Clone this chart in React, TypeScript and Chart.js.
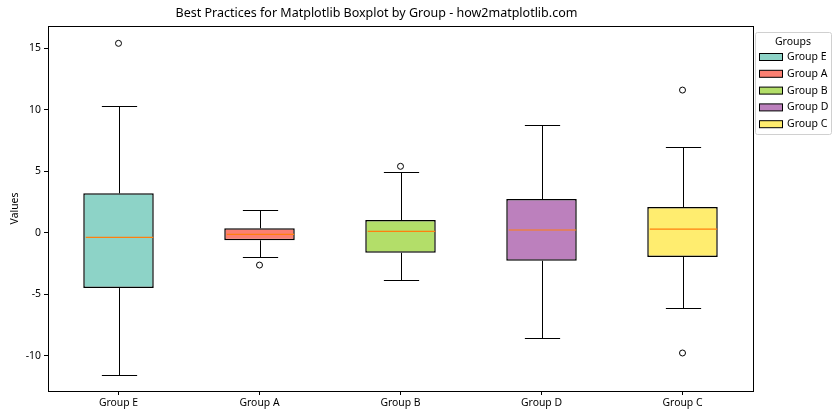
import React, { useEffect, useRef } from "react";
import { Chart, registerables } from "chart.js";

Chart.register(...registerables);

const categories = ["Group E", "Group A", "Group B", "Group D", "Group C"];
const q1 = [-4.5, -0.62, -1.63, -2.28, -1.97];
const q3 = [3.2, 0.36, 1.03, 2.74, 2.09];
const medians = [-0.37, -0.13, 0.11, 0.22, 0.3];
const whiskerLow = [-11.55, -1.97, -3.82, -8.56, -6.12];
const whiskerHigh = [10.3, 1.84, 4.9, 8.75, 6.97];
const outlierGroups = ["Group E", "Group A", "Group B", "Group C", "Group C"];
const outlierValues = [15.4, -2.63, 5.4, 11.6, -9.78];
const yTicks = [-10, -5, 0, 5, 10, 15];
const boxColors = ["#8dd3c7", "#fb8072", "#b3de69", "#bc80bd", "#ffed6f"];
const legendOrder = ["Group E", "Group A", "Group B", "Group D", "Group C"];

const FONT = "'Noto Sans', 'Open Sans', sans-serif";

const boxPlugin = {
  id: "boxExtras",
  afterDatasetsDraw(chart: any) {
    const ctx = chart.ctx;
    const xs = chart.scales.x;
    const ys = chart.scales.y;
    const meta = chart.getDatasetMeta(0);
    ctx.save();
    categories.forEach((_, i) => {
      const el: any = meta.data[i];
      const x = Math.round(xs.getPixelForValue(i)) + 0.5;
      const w = el.width;
      const capHalf = w / 4;
      ctx.strokeStyle = "#000";
      ctx.lineWidth = 1;
      ctx.beginPath();
      const yq3 = ys.getPixelForValue(q3[i]);
      const yq1 = ys.getPixelForValue(q1[i]);
      const yhi = Math.round(ys.getPixelForValue(whiskerHigh[i])) + 0.5;
      const ylo = Math.round(ys.getPixelForValue(whiskerLow[i])) + 0.5;
      ctx.moveTo(x, yq3);
      ctx.lineTo(x, yhi);
      ctx.moveTo(x - capHalf, yhi);
      ctx.lineTo(x + capHalf, yhi);
      ctx.moveTo(x, yq1);
      ctx.lineTo(x, ylo);
      ctx.moveTo(x - capHalf, ylo);
      ctx.lineTo(x + capHalf, ylo);
      ctx.stroke();
      const ym = ys.getPixelForValue(medians[i]);
      ctx.strokeStyle = "#ff7f0e";
      ctx.lineWidth = 1.2;
      ctx.beginPath();
      ctx.moveTo(x - w / 2 + 1.5, ym);
      ctx.lineTo(x + w / 2 - 1.5, ym);
      ctx.stroke();
    });
    ctx.restore();
  },
  afterDraw(chart: any) {
    const ctx = chart.ctx;
    const a = chart.chartArea;
    ctx.save();
    ctx.strokeStyle = "#000";
    ctx.lineWidth = 1;
    ctx.strokeRect(Math.round(a.left) + 0.5, Math.round(a.top) + 0.5, Math.round(a.right - a.left), Math.round(a.bottom - a.top));
    // legend
    const lx = a.right + 2;
    const ly = a.top + 6;
    const lw = 76;
    const lh = 102;
    ctx.fillStyle = "rgba(255,255,255,0.8)";
    ctx.strokeStyle = "#d0d0d0";
    ctx.lineWidth = 1;
    ctx.beginPath();
    (ctx as any).roundRect(lx + 0.5, ly + 0.5, lw, lh, 2);
    ctx.fill();
    ctx.stroke();
    ctx.fillStyle = "#000";
    ctx.font = `10.5px ${FONT}`;
    ctx.textAlign = "center";
    ctx.textBaseline = "middle";
    ctx.fillText("Groups", lx + lw / 2, ly + 10);
    ctx.textAlign = "left";
    legendOrder.forEach((g, k) => {
      const cy = ly + 25 + k * 16.8;
      const idx = categories.indexOf(g);
      ctx.fillStyle = boxColors[idx];
      ctx.fillRect(lx + 4.5, cy - 3.5, 23, 7);
      ctx.strokeStyle = "#000";
      ctx.strokeRect(lx + 4.5, cy - 3.5, 23, 7);
      ctx.fillStyle = "#000";
      ctx.fillText(g, lx + 32, cy);
    });
    ctx.restore();
  },
};

export default function App() {
  const ref = useRef<HTMLCanvasElement>(null);
  useEffect(() => {
    document.body.style.margin = "0";
    const canvas = ref.current!;
    const chart = new Chart(canvas, {
      type: "bar",
      data: {
        labels: categories,
        datasets: [
          {
            type: "bar",
            data: categories.map((_, i) => [q1[i], q3[i]]) as any,
            backgroundColor: boxColors,
            borderColor: "#000",
            borderWidth: 1.5,
            borderSkipped: false,
            barPercentage: 0.5,
            categoryPercentage: 1.0,
            order: 2,
          } as any,
          {
            type: "line",
            data: outlierGroups.map((g, i) => ({ x: g, y: outlierValues[i] })) as any,
            showLine: false,
            pointRadius: 3,
            pointBorderColor: "#000",
            pointBackgroundColor: "rgba(0,0,0,0)",
            pointBorderWidth: 1,
            order: 1,
          } as any,
        ],
      },
      options: {
        animation: false,
        responsive: false,
        events: [],
        layout: { padding: { left: 0, right: 87, top: 0, bottom: 0 } },
        plugins: {
          legend: { display: false },
          tooltip: { enabled: false },
          title: {
            display: true,
            text: "Best Practices for Matplotlib Boxplot by Group - how2matplotlib.com",
            color: "#000",
            font: { family: FONT, size: 12.5, weight: "normal" },
            padding: { top: 5.5, bottom: 5.5 },
          },
        },
        scales: {
          x: {
            type: "category",
            offset: true,
            grid: { display: true, drawOnChartArea: false, drawTicks: true, tickLength: 4, color: "#000", offset: false },
            border: { display: true, color: "#000", width: 1 },
            ticks: { color: "#000", font: { family: FONT, size: 10.4 }, padding: 2, maxRotation: 0 },
            afterFit: (s: any) => { s.height = 29; },
          },
          y: {
            type: "linear",
            min: -12.87,
            max: 16.81,
            grid: { display: true, drawOnChartArea: false, drawTicks: true, tickLength: 4, color: "#000" },
            border: { display: true, color: "#000", width: 1 },
            ticks: { color: "#000", font: { family: FONT, size: 10.4 }, padding: 3 },
            afterBuildTicks: (s: any) => { s.ticks = yTicks.map((v) => ({ value: v })); },
            afterFit: (s: any) => { s.width = 48; },
            title: {
              display: true,
              text: "Values",
              color: "#000",
              font: { family: FONT, size: 10.4 },
              padding: { top: 9, bottom: 0 },
            },
          },
        },
      } as any,
      plugins: [boxPlugin],
    });
    return () => chart.destroy();
  }, []);
  return (
    <div style={{ width: 840, height: 420 }}>
      <canvas ref={ref} width={840} height={420} style={{ display: "block" }} />
    </div>
  );
}
